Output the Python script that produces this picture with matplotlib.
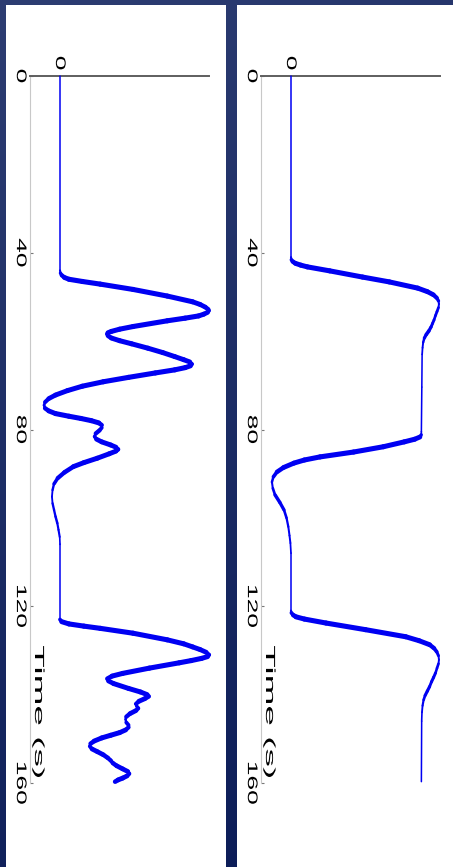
import numpy as np
import matplotlib
matplotlib.use("Agg")
import matplotlib.pyplot as plt
from matplotlib.collections import LineCollection
from matplotlib.patches import Rectangle
from matplotlib.patheffects import AbstractPathEffect
from matplotlib.transforms import Affine2D, blended_transform_factory

plt.rcParams['font.family'] = ['Liberation Sans', 'DejaVu Sans']

# ---- data -------------------------------------------------------------
time_ticks = [0, 40, 80, 120, 160]
value_ticks = [0]
time_label = "Time (s)"

# left trace: time (s) and normalized response
time_left = [0, 44.0, 44.6, 45.1, 45.6, 46.0, 46.5, 47.1, 48.3, 49.8,
             51.1, 51.7, 52.3, 52.8, 53.1, 53.5, 53.9, 54.3, 54.8, 55.4,
             56.7, 57.3, 57.8, 58.1, 58.4, 58.8, 59.3, 59.9, 60.6, 61.6,
             62.6, 63.5, 64.2, 64.7, 65.2, 65.6, 66.0, 66.5, 67.2, 68.2,
             69.2, 70.2, 71.2, 72.2, 73.0, 73.8, 74.5, 75.2, 75.8, 76.4,
             77.0, 77.5, 78.0, 78.5, 79.0, 79.6, 80.2, 80.9, 81.6, 82.2,
             82.8, 83.5, 84.0, 84.5, 84.9, 85.5, 86.5, 87.5, 88.4, 89.7,
             91.0, 92.3, 93.7, 95.2, 96.7, 98.2, 99.7, 101.2, 102.7, 104.3,
             106.0, 123.0, 123.5, 124.0, 124.5, 125.0, 126.1, 127.6, 128.5,
             129.2, 129.8, 130.4, 131.0, 131.4, 131.8, 132.3, 132.8, 134.0,
             135.2, 135.8, 136.4, 136.9, 137.5, 138.6, 139.4, 140.0, 140.4,
             140.9, 141.5, 142.1, 142.6, 143.1, 143.6, 144.3, 145.0, 145.6,
             146.3, 146.9, 147.4, 148.0, 148.6, 149.2, 149.8, 150.5, 151.1,
             151.7, 152.3, 152.9, 153.6, 154.3, 154.9, 155.5, 156.1, 156.8,
             157.4, 157.9, 158.4, 158.9, 159.3, 159.7]
resp_left = [0, 0, 0.003, 0.012, 0.03, 0.06, 0.15, 0.27, 0.49, 0.72,
             0.89, 0.94, 0.975, 0.995, 1.0, 0.99, 0.965, 0.93, 0.84, 0.72,
             0.49, 0.40, 0.345, 0.322, 0.315, 0.322, 0.345, 0.40, 0.48, 0.59,
             0.69, 0.77, 0.83, 0.87, 0.885, 0.875, 0.84, 0.77, 0.64, 0.46,
             0.29, 0.15, 0.05, -0.03, -0.075, -0.10, -0.107, -0.10, -0.075, -0.03,
             0.06, 0.14, 0.21, 0.26, 0.28, 0.28, 0.265, 0.24, 0.232, 0.245,
             0.28, 0.34, 0.375, 0.39, 0.375, 0.33, 0.25, 0.16, 0.09, 0.03,
             -0.015, -0.04, -0.05, -0.054, -0.05, -0.04, -0.03, -0.018, -0.01, -0.002,
             0, 0, 0.012, 0.06, 0.16, 0.27, 0.49, 0.72, 0.83,
             0.89, 0.94, 0.98, 1.0, 0.99, 0.95, 0.88, 0.80, 0.60,
             0.42, 0.35, 0.318, 0.325, 0.36, 0.46, 0.54, 0.585, 0.595,
             0.57, 0.53, 0.51, 0.515, 0.525, 0.51, 0.47, 0.445, 0.44,
             0.445, 0.46, 0.46, 0.44, 0.40, 0.34, 0.28, 0.23, 0.205,
             0.20, 0.215, 0.25, 0.29, 0.32, 0.34, 0.355, 0.38, 0.42,
             0.455, 0.465, 0.45, 0.42, 0.39, 0.37]

# right trace
time_right = [0, 41.0, 41.6, 42.0, 42.4, 42.8, 43.2, 44.1, 45.5, 46.6,
              48.0, 48.8, 49.5, 50.2, 50.9, 51.6, 52.4, 53.3, 54.2, 55.2,
              56.0, 56.8, 57.7, 58.5, 59.3, 60.3, 61.5, 63.0, 70.4, 80.5,
              81.2, 81.7, 82.2, 82.8, 83.9, 85.1, 86.2, 86.9, 87.6, 88.6,
              89.6, 90.7, 91.9, 93.3, 94.8, 96.5, 98.2, 100.0, 102.0, 104.0,
              105.7, 108.0, 121.0, 121.5, 122.0, 122.4, 122.9, 123.8, 125.3,
              126.9, 127.8, 128.7, 129.5, 130.3, 131.2, 132.1, 133.0, 134.0,
              135.1, 136.1, 137.1, 138.2, 139.2, 140.2, 141.2, 142.5, 144.0,
              146.0, 159.7]
resp_right = [0, 0, 0.003, 0.012, 0.03, 0.065, 0.11, 0.26, 0.48, 0.66,
              0.85, 0.915, 0.955, 0.978, 0.99, 0.993, 0.99, 0.98, 0.97, 0.96,
              0.95, 0.94, 0.925, 0.908, 0.895, 0.887, 0.883, 0.88, 0.878, 0.875,
              0.874, 0.865, 0.83, 0.76, 0.62, 0.42, 0.195, 0.09, 0.02, -0.05,
              -0.094, -0.118, -0.128, -0.122, -0.107, -0.075, -0.047, -0.03, -0.018, -0.01,
              -0.004, 0, 0, 0.003, 0.015, 0.034, 0.09, 0.235, 0.50,
              0.77, 0.86, 0.93, 0.96, 0.978, 0.99, 0.993, 0.99, 0.98,
              0.97, 0.957, 0.943, 0.93, 0.915, 0.90, 0.89, 0.883, 0.879,
              0.877, 0.875]

# ---- helpers ----------------------------------------------------------
class Stretch(AbstractPathEffect):
    """Stretch glyph outlines along the text baseline about their centre."""
    def __init__(self, factor):
        super().__init__()
        self.factor = factor

    def draw_path(self, renderer, gc, tpath, affine, rgbFace=None):
        ext = tpath.get_extents()
        cx = 0.5 * (ext.x0 + ext.x1)
        pre = Affine2D().translate(-cx, 0).scale(self.factor, 1).translate(cx, 0)
        renderer.draw_path(gc, tpath, pre + affine, rgbFace)


W, H = 453, 867
fig = plt.figure(figsize=(W / 100, H / 100), dpi=100)

# navy gradient backdrop with white panels
bg = fig.add_axes([0, 0, 1, 1], zorder=0)
yy, xx = np.mgrid[0:1:300j, 0:1:150j]
mix = np.clip(0.85 * yy + 0.2 * xx, 0, 1)[..., None]
c_top = np.array([0x2d, 0x3d, 0x72]) / 255
c_bot = np.array([0x0b, 0x1c, 0x57]) / 255
bg.imshow(c_top * (1 - mix) + c_bot * mix, extent=(0, 1, 0, 1),
          aspect='auto', origin='upper')
bg.add_patch(Rectangle((6 / W, 0), 220 / W, 862 / H, facecolor='white',
                       edgecolor='none'))
bg.add_patch(Rectangle((237 / W, 0), 216 / W, 862 / H, facecolor='white',
                       edgecolor='none'))
bg.set_xlim(0, 1)
bg.set_ylim(0, 1)
bg.axis('off')


def draw_trace(ax, t, v, thin=1.1, thick=3.7, color='#0000f2'):
    pts = np.column_stack([v, t])
    segs = np.stack([pts[:-1], pts[1:]], axis=1)
    disp = ax.transData.transform(pts)
    d = np.diff(disp, axis=0)
    sin_a = np.abs(d[:, 0]) / np.clip(np.hypot(d[:, 0], d[:, 1]), 1e-9, None)
    widths = thin + (thick - thin) * sin_a
    lc = LineCollection(segs, linewidths=widths, colors=color,
                        capstyle='round', joinstyle='round', clip_on=False,
                        zorder=3)
    ax.add_collection(lc)


def make_panel(left_px, t, v):
    ax = fig.add_axes([left_px / W, 1 - 783 / H, 179 / W, 707 / H], zorder=2)
    ax.set_facecolor('none')
    ax.set_xlim(-30 / 149, 1.0)
    ax.set_ylim(160, 0)
    for s in ('right', 'bottom'):
        ax.spines[s].set_visible(False)
    ax.spines['top'].set_color('#5e5e5e')
    ax.spines['top'].set_linewidth(1.4)
    ax.spines['left'].set_color('#c8c8c8')
    ax.spines['left'].set_linewidth(0.8)

    ax.xaxis.set_ticks_position('top')
    ax.set_xticks(value_ticks, [str(x) for x in value_ticks])
    ax.set_yticks(time_ticks, [str(x) for x in time_ticks])
    ax.tick_params(axis='x', length=0, pad=6.5, labelsize=10)
    ax.tick_params(axis='y', direction='in', length=2, width=0.8,
                   color='#777777', pad=1.5, labelsize=10)
    for tk in ax.xaxis.get_major_ticks():
        for lbl in (tk.label1, tk.label2):
            lbl.set_rotation(-90)
            lbl.set_ha('center')
            lbl.set_va('bottom')
            lbl.set_path_effects([Stretch(1.9)])
    for tk in ax.yaxis.get_major_ticks():
        for lbl in (tk.label1, tk.label2):
            lbl.set_rotation(-90)
            lbl.set_ha('right')
            lbl.set_va('center')
            lbl.set_path_effects([Stretch(1.9)])

    tr = blended_transform_factory(ax.transAxes, ax.transData)
    ax.text(8 / 179, 143.9, time_label, transform=tr, rotation=-90,
            rotation_mode='anchor', ha='center', va='center', fontsize=9.5,
            path_effects=[Stretch(2.8)])

    draw_trace(ax, t, v)
    return ax


make_panel(30, time_left, resp_left)
make_panel(261, time_right, resp_right)

fig.savefig('out.png', dpi=100)
